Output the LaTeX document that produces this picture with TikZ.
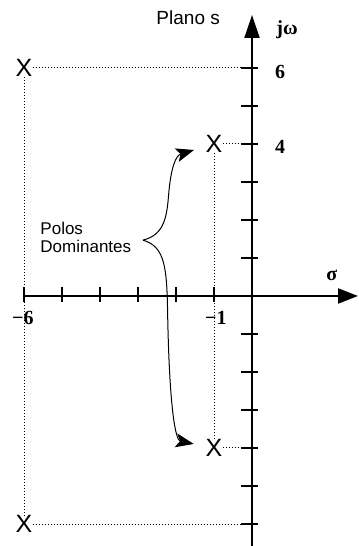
\documentclass[tikz,border=0pt]{standalone}
\usepackage{fontspec}
\setmainfont{Liberation Serif}
\setsansfont{Liberation Sans}
\usetikzlibrary{arrows.meta,positioning}

\begin{document}
\begin{tikzpicture}[
    x=38pt, y=38pt,
    axis/.style={line width=2pt},
    tick/.style={line width=1.6pt},
    guide/.style={line width=1pt, dash pattern=on 1.5pt off 1.5pt},
    pole/.style={inner sep=0pt, font=\sffamily\fontsize{25}{25}\selectfont},
    num/.style={font=\bfseries\fontsize{20}{20}\selectfont},
    txt/.style={font=\sffamily\fontsize{17}{18}\selectfont, align=left},
    curve/.style={line width=1pt, shorten >=12pt, -{Stealth[length=18pt,width=14pt,inset=4pt]}}
]
\useasboundingbox (-6.632,-6.579) rectangle (2.789,7.789);

\coordinate (o) at (0,0);

% Axes
\draw[axis, -{Triangle[length=20pt,width=15pt]}] (-6,0) -- (2.789,0);
\draw[axis, -{Triangle[length=23pt,width=15pt]}] (0,-6.579) -- (0,7.395);

% Ticks
\foreach \i in {-6,-5,-4,-3,-2,-1}
  \draw[tick] (\i,-0.16) -- (\i,0.24);
\foreach \i in {-6,-5,-4,-3,-2,-1,1,2,3,4,5,6}
  \draw[tick] (-0.29,\i) -- (0.16,\i);

% Poles
\node[pole] (p1) at (-6,6) {X};
\node[pole] (p2) at (-1,4) {X};
\node[pole] (p3) at (-1,-4) {X};
\node[pole] (p4) at (-6,-6) {X};

% Guide lines
\draw[guide] (p1) -- (p1 -| o);
\draw[guide] (p2) -- (p2 -| o);
\draw[guide] (p3) -- (p3 -| o);
\draw[guide] (p4) -- (p4 -| o);
\draw[guide] (p1) -- (p4);
\draw[guide] (p2) -- (p3);

% Labels
\node[num] (l6) at (0.74,5.89) {6};
\node[num] (l4) at (0.74,3.92) {4};
\node[num] (jw) at (0.92,7.0) {jω};
\node[num] (sigma) at (2.1,0.53) {σ};
\node[num] (m6) at (-6.03,-0.58) {−6};
\node[num] (m1) at (-0.95,-0.58) {−1};
\node[txt, font=\sffamily\fontsize{19}{19}\selectfont] (plano) at (-1.68,7.32) {Plano s};
\node[txt, anchor=west] (polos) at (-5.66,1.54) {Polos\\Dominantes};

% Dominant poles
\coordinate (brace) at (-2.87,1.47);
\draw[curve] (brace) .. controls (-2.35,1.6) and (-2.25,2.0) .. (-2.2,2.6)
  .. controls (-2.14,3.4) and (-2.0,3.7) .. (p2);
\draw[curve] (brace) .. controls (-2.3,1.3) and (-2.24,0.8) .. (-2.22,-0.5)
  .. controls (-2.17,-3.1) and (-2.0,-3.8) .. (p3);

\end{tikzpicture}
\end{document}
